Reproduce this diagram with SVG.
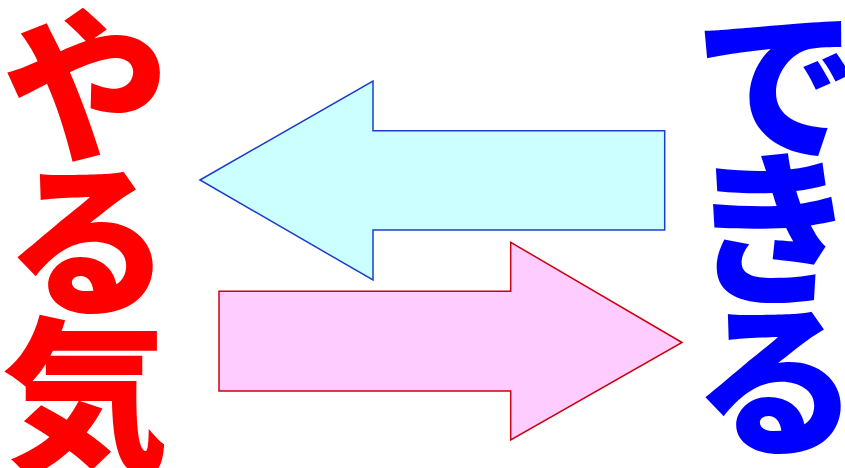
<svg xmlns="http://www.w3.org/2000/svg" width="845" height="468" viewBox="0 0 845 468">
<style>
.big{font-family:"Noto Sans CJK JP","Noto Sans CJK SC",sans-serif;font-weight:900;font-size:166px;text-anchor:middle;dominant-baseline:central}
.red{fill:#FF0000}
.blue{fill:#0000FF}
.arrL{fill:#CCFFFF;stroke:#1A3FCC;stroke-width:1.5}
.arrR{fill:#FFCCFF;stroke:#CC0010;stroke-width:1.5}
</style>
<rect width="845" height="468" fill="#FFFFFF"/>
<g id="yaruki">
<text class="big red" x="86" y="76">や</text>
<text class="big red" x="88" y="230">る</text>
<text class="big red" x="85" y="385">気</text>
</g>
<g id="dekiru">
<text class="big blue" x="777" y="74">で</text>
<text class="big blue" x="773" y="218">き</text>
<text class="big blue" x="776" y="370">る</text>
</g>
<g id="connectors">
<polygon class="arrL" points="200,180 373,81 373,130.7 664.7,130.7 664.7,230 373,230 373,280"/>
<polygon class="arrR" points="682,342.5 510.7,242.3 510.7,291.3 219,291.3 219,391 510.7,391 510.7,440"/>
</g>
</svg>
